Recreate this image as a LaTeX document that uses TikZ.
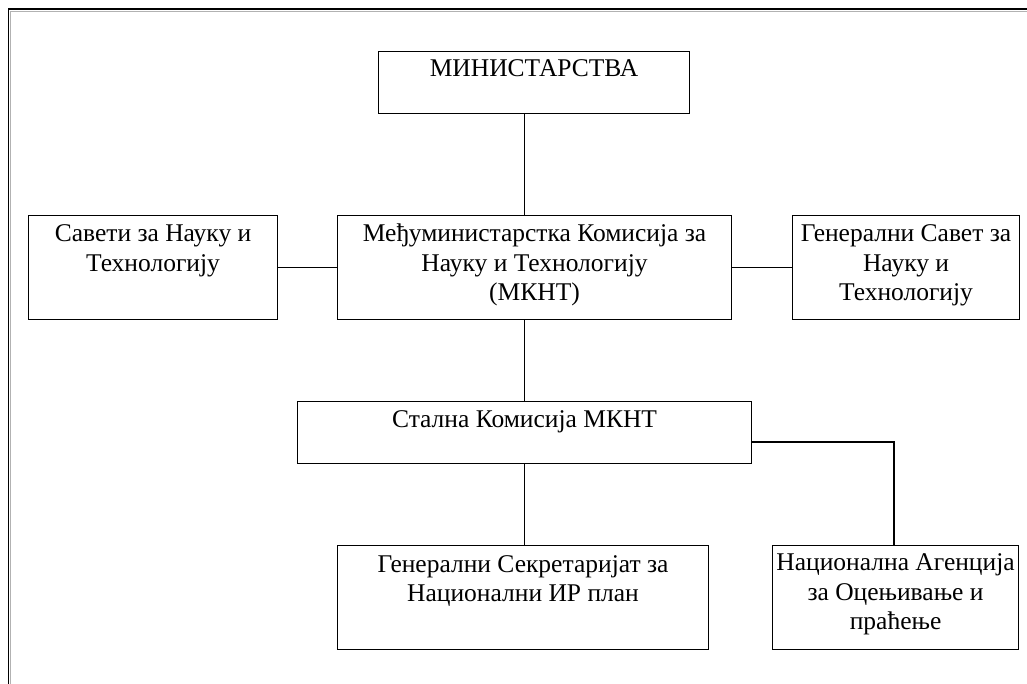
\documentclass[tikz,border=0pt]{standalone}
\usepackage{fontspec}
\setmainfont{Liberation Serif}
\begin{document}
\begin{tikzpicture}[x=1pt,y=-1pt,
  orgbox/.style={draw=black,line width=1.1pt,rectangle,inner sep=0pt,anchor=north west},
  orgtext/.style={anchor=base,align=center,inner sep=0pt,
    font=\fontsize{25.5pt}{29.5pt}\selectfont},
  link/.style={draw=black,line width=1.2pt}]
\useasboundingbox (0,0) rectangle (1027,684);
\fill[white] (0,0) rectangle (1027,684);

% page frame: only its top and left sides fall inside the picture
\draw[gray!60,line width=1pt] (1027,11.2) -- (10.2,11.2) -- (10.2,684);
\draw[black,line width=1.6pt] (1027,9.3) -- (8.3,9.3) -- (8.3,684);

% boxes
\node[orgbox,minimum width=311pt,minimum height=62pt]  (min)    at (378,51)  {};
\node[orgbox,minimum width=249pt,minimum height=104pt] (savety) at (28,215)  {};
\node[orgbox,minimum width=394pt,minimum height=104pt] (mknt)   at (337,215) {};
\node[orgbox,minimum width=227pt,minimum height=104pt] (gsavet) at (792,215) {};
\node[orgbox,minimum width=454pt,minimum height=62pt]  (stalna) at (297,401) {};
\node[orgbox,minimum width=371pt,minimum height=104pt] (gsekr)  at (337,545) {};
\node[orgbox,minimum width=246pt,minimum height=104pt] (nacag)  at (772,545) {};

% box texts; the base anchor sits on the last line, so each shift
% is the first baseline's depth below the box top plus the extra lines
\node[orgtext] (tmin)    at ([yshift=-26pt]min.north)    {МИНИСТАРСТВА};
\node[orgtext] (tsavety) at ([yshift=-56.5pt]savety.north) {Савети за Науку и\\Технологију};
\node[orgtext] (tmknt)   at ([yshift=-86pt]mknt.north)   {Међуминистарстка Комисија за\\Науку и Технологију\\(МКНТ)};
\node[orgtext] (tgsavet) at ([yshift=-86pt]gsavet.north) {Генерални Савет за\\Науку и\\Технологију};
\node[orgtext] (tstalna) at ([yshift=-26pt]stalna.north) {Стална Комисија МКНТ};
\node[orgtext] (tgsekr)  at ([yshift=-56.5pt]gsekr.north)  {Генерални Секретаријат за\\Национални ИР план};
\node[orgtext] (tnacag)  at ([yshift=-84.5pt]nacag.north)  {Национална Агенција\\за Оцењивање и\\праћење};

% connectors
\coordinate (spine) at (stalna.north);
\draw[link] (min.south -| spine) -- (mknt.north -| spine);
\draw[link] (savety.east) -- (mknt.west |- savety.east);
\draw[link] (mknt.east |- gsavet.west) -- (gsavet.west);
\draw[link] (mknt.south -| spine) -- (stalna.north);
\draw[link] (stalna.south) -- (gsekr.north -| stalna.south);
\coordinate (elbow) at (894,442);
\draw[link] (stalna.east |- elbow) -- (elbow) -- (elbow |- nacag.north);
\end{tikzpicture}
\end{document}
